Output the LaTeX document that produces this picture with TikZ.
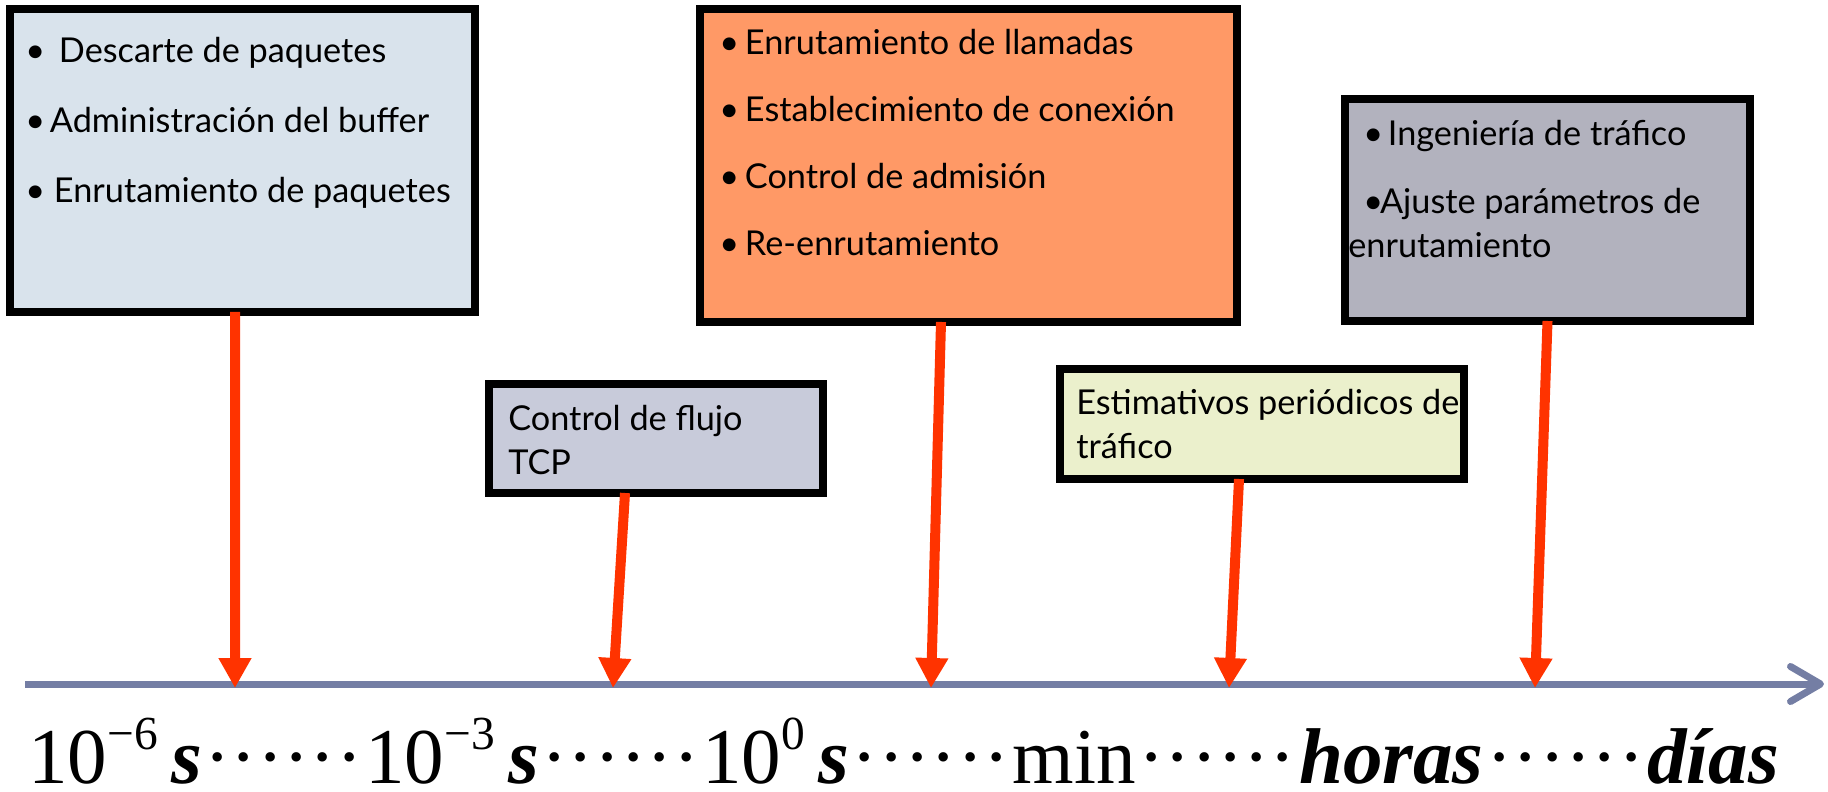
\documentclass[tikz,border=0pt]{standalone}
\usepackage{fontspec}
\setmainfont{Lato}
\newfontfamily\tiempos{Liberation Serif}
\usetikzlibrary{arrows.meta}
\definecolor{azulcaja}{RGB}{217,227,236}
\definecolor{naranja}{RGB}{255,153,102}
\definecolor{grisvio}{RGB}{178,178,190}
\definecolor{lavanda}{RGB}{200,203,218}
\definecolor{crema}{RGB}{235,240,204}
\definecolor{rojo}{RGB}{255,51,0}
\definecolor{ejeazul}{RGB}{116,126,164}
\newcommand{\puntos}{\kern0.035em······\kern0.035em}
\newcommand{\expo}[1]{\raisebox{18.8pt}{\fontsize{27}{27}\selectfont #1}}
\newcommand{\sbf}[1]{\textbf{\textit{#1}}}

\begin{document}
\begin{tikzpicture}[x=0.02cm,y=-0.02cm,
  caja/.style={draw=black,line width=0.16cm,inner sep=0pt,outer sep=0pt},
  texto/.style={anchor=base west,align=left,inner sep=0pt,font=\fontsize{19.5}{25}\selectfont},
  flecha/.style={draw=rojo,line width=0.2cm,-{Triangle[length=0.6cm,width=0.62cm]}},
  eje/.style={draw=ejeazul,line width=0.14cm,-{Straight Barb[length=0.6cm,width=0.7cm,round]}}]
\useasboundingbox (0,0) rectangle (1828,791);
% cajas
\node[caja,fill=azulcaja,minimum width=9.3cm,minimum height=6.06cm] (b1) at (242.5,160.5) {};
\node[caja,fill=naranja,minimum width=10.74cm,minimum height=6.26cm] (b2) at (968.5,165.5) {};
\node[caja,fill=grisvio,minimum width=8.1cm,minimum height=4.44cm] (b3) at (1547.5,210) {};
\node[caja,fill=lavanda,minimum width=6.68cm,minimum height=2.18cm] (b4) at (656,438.5) {};
\node[caja,fill=crema,minimum width=8.08cm,minimum height=2.2cm] (b5) at (1262,424) {};
% textos (base = ultima linea)
\node[texto] (t1) at (25,202) {• \kern2.8pt Descarte de paquetes\\[14.8pt]
  • \kern-2.3pt Administración del buffer\\[14.8pt]• Enrutamiento de paquetes};
\node[texto] (t2) at (719,255) {• \kern-1.7pt Enrutamiento de llamadas\\[13pt]
  • \kern-1.7pt Establecimiento de conexión\\[13pt]• \kern-1.7pt Control de admisión\\[13pt]
  • \kern-1.7pt Re-enrutamiento};
\node[texto] (t3) at (1348,257) {\hspace*{0.3cm}• \kern-2.3pt Ingeniería de tráfico\\[13.7pt]
  \hspace*{0.3cm}• \kern-6.8pt Ajuste parámetros de\\enrutamiento};
\node[texto] (t4) at (508,474) {Control de flujo\\TCP};
\node[texto] (t5) at (1076,458) {Estimativos periódicos de\\tráfico};
% eje
\coordinate (e0) at (25,684);
\coordinate (e1) at (1824,684);
\draw[eje] (e0) -- (e1);
\coordinate (m1) at (235,688);
\coordinate (m2) at (613,688);
\coordinate (m3) at (931,688);
\coordinate (m4) at (1229,688);
\coordinate (m5) at (1535,688);
% flechas
\draw[flecha] ([xshift=-0.15cm]b1.south) -- (m1);
\draw[flecha] ([xshift=-0.62cm]b4.south) -- (m2);
\draw[flecha] ([xshift=-0.55cm]b2.south) -- (m3);
\draw[flecha] ([xshift=-0.46cm]b5.south) -- (m4);
\draw[flecha] (b3.south) -- (m5);
% escala
\node[anchor=base west,inner sep=0pt,font=\tiempos\fontsize{45}{45}\selectfont] (esc) at (28,783)
  {10\expo{−6}\,\sbf{s}\puntos 10\expo{−3}\,\sbf{s}\puntos 10\expo{0}\,\sbf{s}\puntos min\puntos\sbf{horas}\puntos\sbf{días}};
\end{tikzpicture}
\end{document}
